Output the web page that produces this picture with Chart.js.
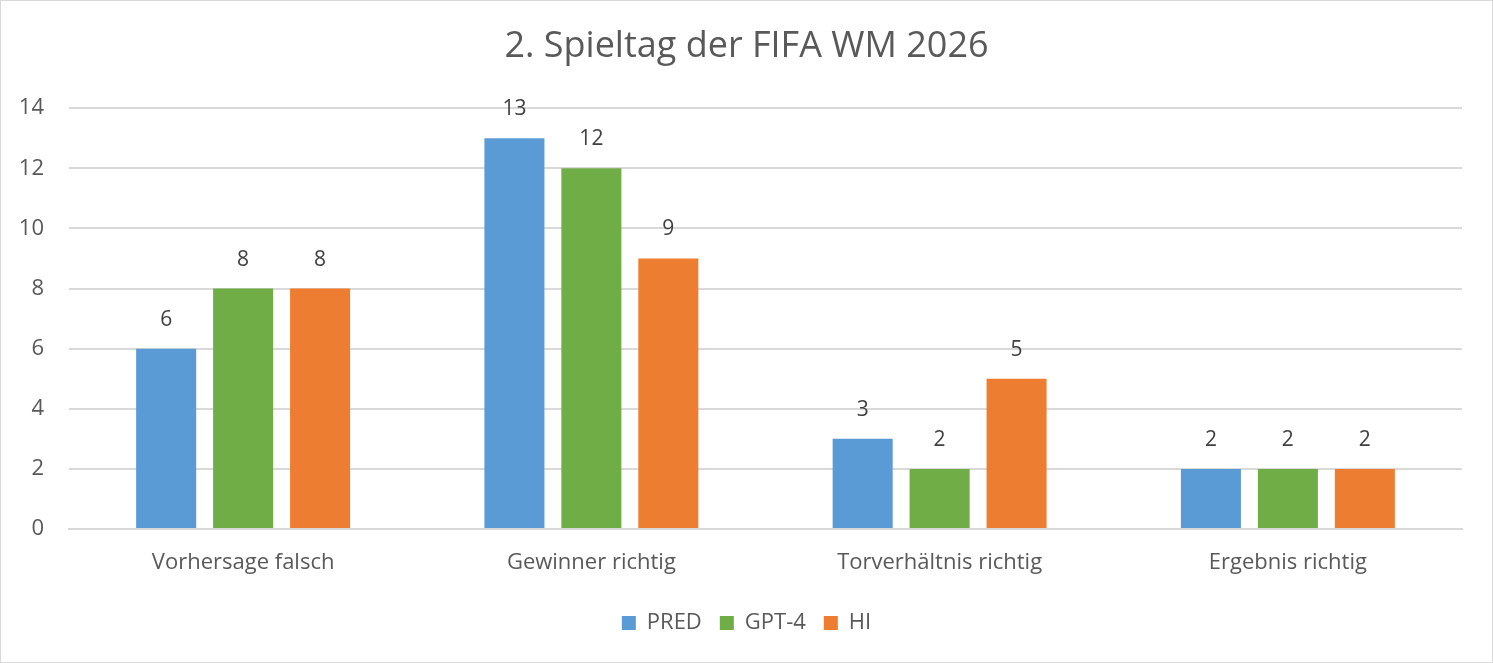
<!DOCTYPE html>
<html>
<head>
<meta charset="utf-8">
<script src="https://cdn.jsdelivr.net/npm/chart.js@4/dist/chart.umd.min.js"></script>
<style>
html,body{margin:0;padding:0;background:#fff;overflow:hidden;}
canvas{display:block;}
</style>
</head>
<body>
<canvas id="c" width="1493" height="663"></canvas>
<script>
const categories = ["Vorhersage falsch", "Gewinner richtig", "Torverhältnis richtig", "Ergebnis richtig"];
const seriesNames = ["PRED", "GPT-4", "HI"];
const predValues = [6, 13, 3, 2];
const gptValues = [8, 12, 2, 2];
const hiValues = [8, 9, 5, 2];
const yTicks = [0, 2, 4, 6, 8, 10, 12, 14];
const titleText = "2. Spieltag der FIFA WM 2026";

const FONT = "'Open Sans', 'Noto Sans', sans-serif";
const colors = ["#5B9BD5", "#70AD47", "#ED7D31"];

const bgPlugin = {
  id: 'bg',
  beforeDraw(chart) {
    const ctx = chart.ctx;
    ctx.save();
    ctx.fillStyle = '#fff';
    ctx.fillRect(0, 0, chart.width, chart.height);
    ctx.strokeStyle = '#D9D9D9';
    ctx.lineWidth = 1;
    ctx.strokeRect(0.5, 0.5, chart.width - 1, chart.height - 1);
    ctx.restore();
  }
};

const labelPlugin = {
  id: 'valueLabels',
  afterDatasetsDraw(chart) {
    const ctx = chart.ctx;
    ctx.save();
    ctx.font = "21px " + FONT;
    ctx.fillStyle = '#404040';
    ctx.textAlign = 'center';
    ctx.textBaseline = 'middle';
    chart.data.datasets.forEach((ds, i) => {
      const meta = chart.getDatasetMeta(i);
      meta.data.forEach((bar, j) => {
        ctx.fillText(String(ds.data[j]), bar.x, bar.y - 29);
      });
    });
    ctx.restore();
  }
};

new Chart(document.getElementById('c'), {
  type: 'bar',
  data: {
    labels: categories,
    datasets: [
      { label: seriesNames[0], data: predValues, backgroundColor: colors[0] },
      { label: seriesNames[1], data: gptValues, backgroundColor: colors[1] },
      { label: seriesNames[2], data: hiValues, backgroundColor: colors[2] }
    ]
  },
  options: {
    responsive: false,
    animation: false,
    devicePixelRatio: 1,
    categoryPercentage: 0.663,
    barPercentage: 0.78,
    layout: { padding: { left: 0, right: 0, top: 0, bottom: 19 } },
    plugins: {
      title: {
        display: true,
        text: titleText,
        color: '#595959',
        font: { family: FONT, size: 36, weight: 'normal' },
        padding: { top: 25, bottom: 40 }
      },
      legend: {
        display: true,
        position: 'bottom',
        labels: {
          color: '#595959',
          font: { family: FONT, size: 22 },
          boxWidth: 14,
          boxHeight: 14,
          padding: 18
        }
      },
      tooltip: { enabled: false }
    },
    scales: {
      x: {
        afterFit(scale) { scale.height = 65; },
        grid: { display: false, drawTicks: false },
        border: { display: true, color: '#D9D9D9', width: 2 },
        ticks: { color: '#595959', font: { family: FONT, size: 22 }, padding: 21 }
      },
      y: {
        min: 0,
        max: 14,
        afterFit(scale) { scale.width = 69; },
        afterBuildTicks(scale) { scale.ticks = yTicks.map(v => ({ value: v })); },
        grid: { color: '#D9D9D9', lineWidth: 2, drawTicks: false },
        border: { display: false },
        ticks: { color: '#595959', font: { family: FONT, size: 22 }, padding: 25 }
      },
      yRight: {
        position: 'right',
        display: true,
        afterFit(scale) { scale.width = 31; },
        grid: { display: false, drawTicks: false },
        border: { display: false },
        ticks: { display: false }
      }
    }
  },
  plugins: [bgPlugin, labelPlugin]
});
</script>
</body>
</html>
